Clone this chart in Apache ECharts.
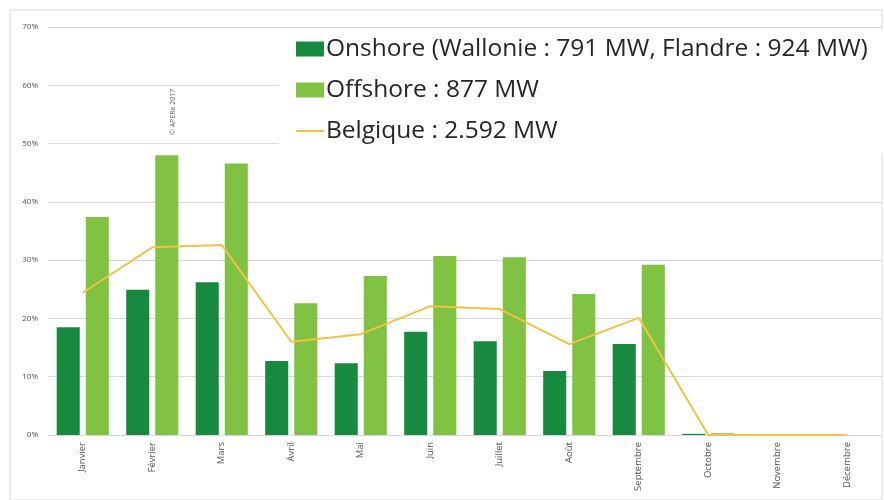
<!DOCTYPE html>
<html>
<head>
<meta charset="utf-8">
<script src="https://cdn.jsdelivr.net/npm/echarts@6/dist/echarts.min.js"></script>
<style>
	html, body { margin: 0; padding: 0; background: #fff; }
	#chart { width: 884px; height: 500px; }
</style>
</head>
<body>
<div id="chart"></div>
<script>
const months = ['Janvier', 'Février', 'Mars', 'Avril', 'Mai', 'Juin', 'Juillet', 'Août', 'Septembre', 'Octobre', 'Novembre', 'Décembre'];
const onshore = [18.5, 24.9, 26.2, 12.7, 12.3, 17.7, 16.1, 11.0, 15.6, 0.2, 0, 0];
const offshore = [37.4, 48.0, 46.6, 22.6, 27.3, 30.7, 30.5, 24.2, 29.2, 0.3, 0, 0];
const belgique = [24.4, 32.2, 32.6, 16.0, 17.3, 22.1, 21.6, 15.6, 20.1, 0, 0, 0];
const seriesNames = [
	'Onshore (Wallonie : 791 MW, Flandre : 924 MW)',
	'Offshore : 877 MW',
	'Belgique : 2.592 MW'
];
const lineColor = '#f2c244';

const myChart = echarts.init(document.getElementById('chart'));
const option = {
	animation: false,
	textStyle: { fontFamily: 'Open Sans' },
	grid: { left: 48, top: 27, width: 834, height: 408 },
	graphic: [
		{
			type: 'rect',
			shape: { x: 10, y: 10, width: 872, height: 490 },
			style: { fill: 'none', stroke: '#d9d9d9', lineWidth: 1 },
			z: -1
		},
		{
			type: 'text',
			x: 169,
			y: 135,
			rotation: Math.PI / 2,
			style: { text: '© APERe 2017', fontSize: 7, fill: '#666', fontFamily: 'Open Sans' },
			z: 10
		}
	],
	legend: {
		orient: 'vertical',
		left: 279,
		top: 29,
		padding: [6, 16, 8, 16],
		backgroundColor: '#fff',
		itemWidth: 28,
		itemHeight: 15,
		itemGap: 13,
		textStyle: { fontSize: 24.5, color: '#262626', fontFamily: 'Open Sans', padding: [0, 0, 0, -3], lineHeight: 28 },
		data: [
			{ name: seriesNames[0], icon: 'rect' },
			{ name: seriesNames[1], icon: 'rect' },
			{
				name: seriesNames[2],
				icon: 'line',
				itemStyle: { color: lineColor, borderColor: lineColor, borderWidth: 2 }
			}
		]
	},
	xAxis: {
		type: 'category',
		data: months,
		axisLine: { lineStyle: { color: '#d9d9d9' } },
		axisTick: { show: false },
		axisLabel: { rotate: 90, fontSize: 9.5, color: '#555', margin: 7 }
	},
	yAxis: {
		type: 'value',
		min: 0,
		max: 70,
		interval: 10,
		axisLine: { show: false },
		axisTick: { show: false },
		splitLine: { lineStyle: { color: '#d9d9d9' } },
		axisLabel: { formatter: '{value}%', fontSize: 8, color: '#555', margin: 10 }
	},
	series: [
		{
			name: seriesNames[0],
			type: 'bar',
			data: onshore,
			barGap: '26%',
			barCategoryGap: '25%',
			itemStyle: { color: '#178a3f' }
		},
		{
			name: seriesNames[1],
			type: 'bar',
			data: offshore,
			itemStyle: { color: '#80c342' }
		},
		{
			name: seriesNames[2],
			type: 'line',
			data: belgique,
			symbol: 'none',
			lineStyle: { color: lineColor, width: 2 },
			itemStyle: { color: lineColor },
			z: 3
		}
	]
};
myChart.setOption(option);
</script>
</body>
</html>
